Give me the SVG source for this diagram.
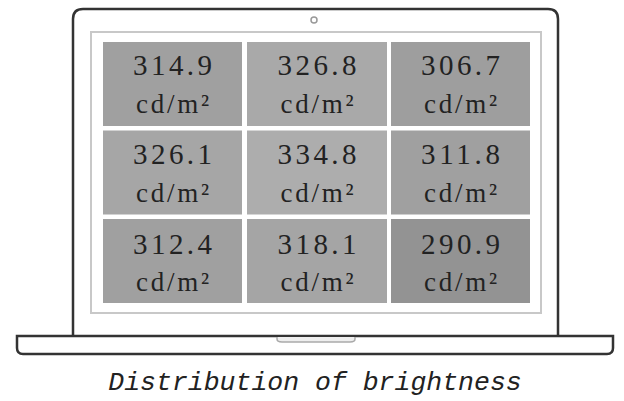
<svg xmlns="http://www.w3.org/2000/svg" width="624" height="401" viewBox="0 0 624 401">
<style>
.lid{fill:#fff;stroke:#333;stroke-width:2.5}
.scr{fill:#fff;stroke:#c8c8c8;stroke-width:2}
.v{font-family:"Liberation Serif",serif;font-size:29px;fill:#222;text-anchor:middle}
.u{font-family:"Liberation Serif",serif;font-size:27px;fill:#222;text-anchor:middle}
.cap{font-family:"Liberation Mono",monospace;font-style:italic;font-size:26.5px;fill:#222;text-anchor:middle}
</style>
<rect x="0" y="0" width="624" height="401" fill="#fff"/>
<g id="laptop">
<path class="lid" d="M73,336 V19 Q73,9 83,9 H548 Q558,9 558,19 V336"/>
<circle cx="314" cy="20" r="3" fill="none" stroke="#999" stroke-width="1.5"/>
<rect class="scr" x="91" y="32" width="450" height="281"/>
<path d="M17,336 H613 V348 Q613,354 607,354 H23 Q17,354 17,348 Z" fill="#fff" stroke="#333" stroke-width="2.5"/>
<path d="M277,337 V339 Q277,342 282,342 H350 Q355,342 355,339 V337" fill="#eee" stroke="#aaa" stroke-width="1.5"/>
</g>
<g id="c11"><rect x="103" y="42" width="139" height="84" fill="#a0a0a0"/><text class="v" x="172.5" y="75" textLength="79" lengthAdjust="spacing">314.9</text><text class="u" x="172.5" y="113" textLength="73" lengthAdjust="spacing">cd/m²</text></g>
<g id="c12"><rect x="247" y="42" width="140" height="84" fill="#a9a9a9"/><text class="v" x="317" y="75" textLength="79" lengthAdjust="spacing">326.8</text><text class="u" x="317" y="113" textLength="73" lengthAdjust="spacing">cd/m²</text></g>
<g id="c13"><rect x="391" y="42" width="139" height="84" fill="#9e9e9e"/><text class="v" x="460.5" y="75" textLength="79" lengthAdjust="spacing">306.7</text><text class="u" x="460.5" y="113" textLength="73" lengthAdjust="spacing">cd/m²</text></g>
<g id="c21"><rect x="103" y="130.5" width="139" height="84" fill="#a6a6a6"/><text class="v" x="172.5" y="164" textLength="79" lengthAdjust="spacing">326.1</text><text class="u" x="172.5" y="202" textLength="73" lengthAdjust="spacing">cd/m²</text></g>
<g id="c22"><rect x="247" y="130.5" width="140" height="84" fill="#adadad"/><text class="v" x="317" y="164" textLength="79" lengthAdjust="spacing">334.8</text><text class="u" x="317" y="202" textLength="73" lengthAdjust="spacing">cd/m²</text></g>
<g id="c23"><rect x="391" y="130.5" width="139" height="84" fill="#a0a0a0"/><text class="v" x="460.5" y="164" textLength="79" lengthAdjust="spacing">311.8</text><text class="u" x="460.5" y="202" textLength="73" lengthAdjust="spacing">cd/m²</text></g>
<g id="c31"><rect x="103" y="219" width="139" height="84" fill="#a0a0a0"/><text class="v" x="172.5" y="254" textLength="79" lengthAdjust="spacing">312.4</text><text class="u" x="172.5" y="291" textLength="73" lengthAdjust="spacing">cd/m²</text></g>
<g id="c32"><rect x="247" y="219" width="140" height="84" fill="#a5a5a5"/><text class="v" x="317" y="254" textLength="79" lengthAdjust="spacing">318.1</text><text class="u" x="317" y="291" textLength="73" lengthAdjust="spacing">cd/m²</text></g>
<g id="c33"><rect x="391" y="219" width="139" height="84" fill="#939393"/><text class="v" x="460.5" y="254" textLength="79" lengthAdjust="spacing">290.9</text><text class="u" x="460.5" y="291" textLength="73" lengthAdjust="spacing">cd/m²</text></g>
<g id="connectors"></g>
<g id="caption"><text class="cap" x="315" y="390">Distribution of brightness</text></g>
</svg>
